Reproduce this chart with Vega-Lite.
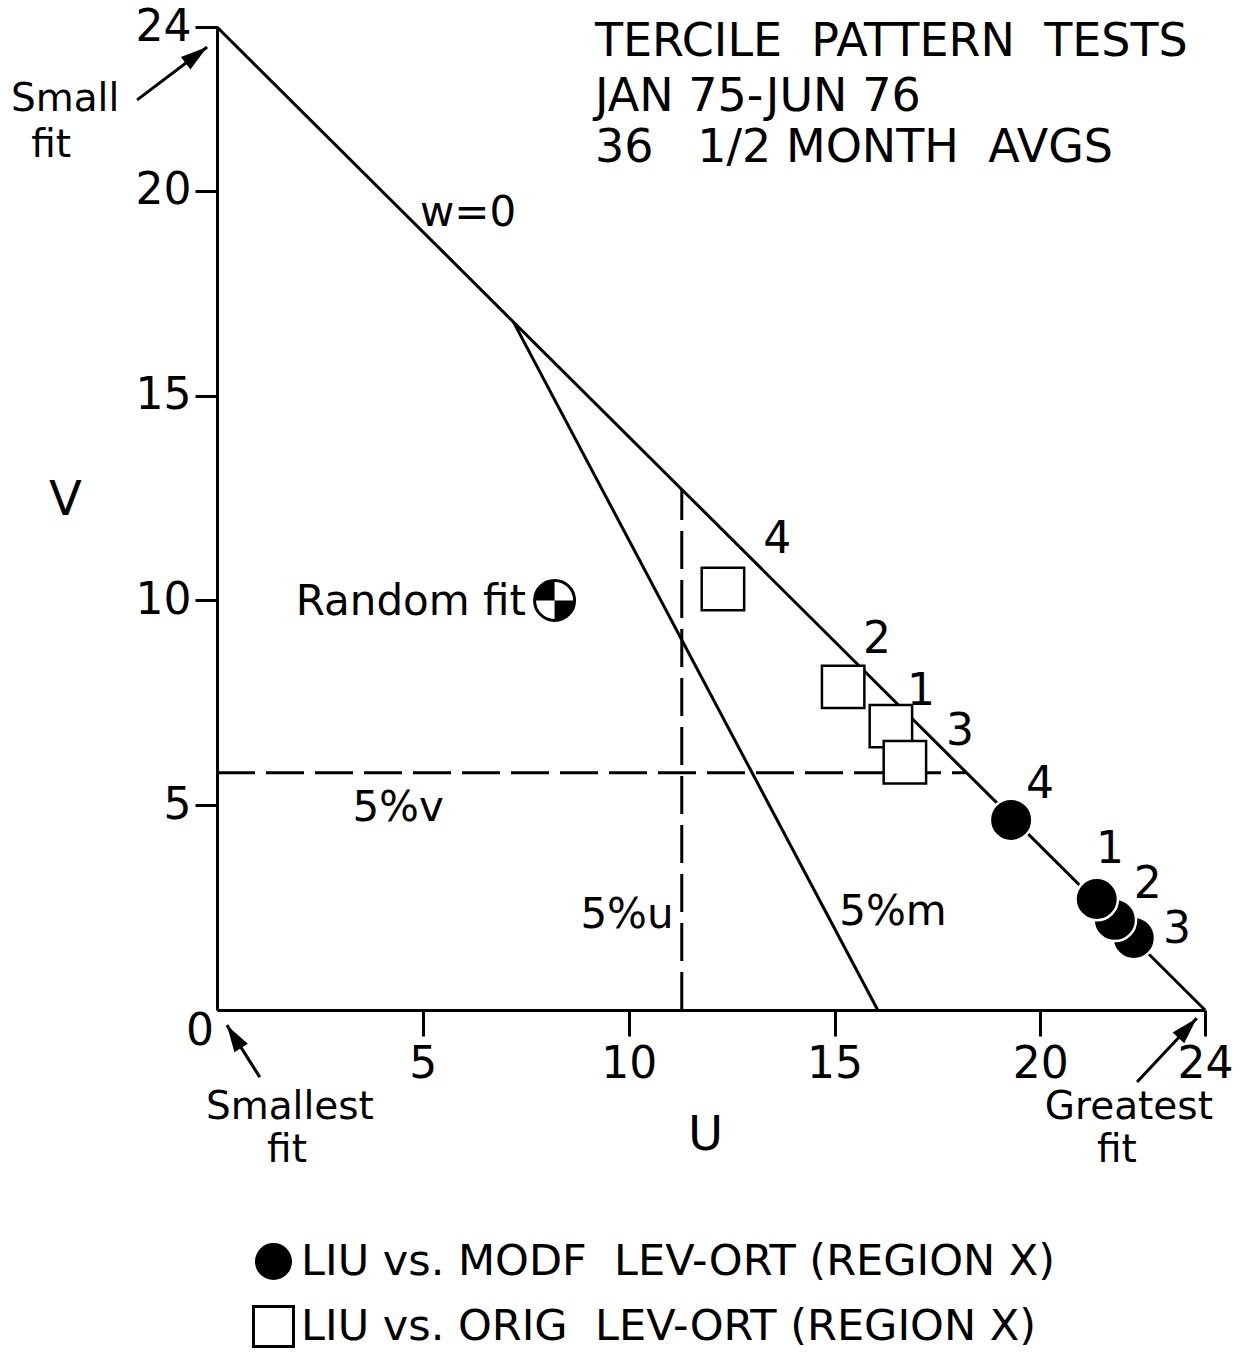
{
  "$schema": "https://vega.github.io/schema/vega-lite/v6.json",
  "width": 988,
  "height": 983,
  "autosize": {"type": "none"},
  "padding": {"left": 217, "top": 27, "right": 41, "bottom": 345},
  "background": "white",
  "config": {
    "view": {"stroke": null},
    "font": "DejaVu Sans",
    "axis": {
      "domainColor": "black", "domainWidth": 3, "tickColor": "black", "tickWidth": 3,
      "labelColor": "black", "labelFont": "DejaVu Sans", "labelFontSize": 44,
      "titleColor": "black", "titleFont": "DejaVu Sans", "titleFontWeight": "normal", "titleFontSize": 48,
      "grid": false, "labelFlush": false, "labelOverlap": false
    },
    "legend": {
      "orient": "none", "legendX": 35, "legendY": 1213, "title": null,
      "labelFont": "DejaVu Sans", "labelFontSize": 43, "labelColor": "black", "labelLimit": 0,
      "symbolSize": 1600, "symbolStrokeWidth": 3, "rowPadding": 12, "labelOffset": 6
    }
  },
  "datasets": {
    "points": [
      {"u": 12.29, "v": 10.28, "series": "LIU vs. ORIG\u00a0 LEV-ORT (REGION X)", "id": "4"},
      {"u": 15.21, "v": 7.89, "series": "LIU vs. ORIG\u00a0 LEV-ORT (REGION X)", "id": "2"},
      {"u": 16.37, "v": 6.93, "series": "LIU vs. ORIG\u00a0 LEV-ORT (REGION X)", "id": "1"},
      {"u": 16.71, "v": 6.05, "series": "LIU vs. ORIG\u00a0 LEV-ORT (REGION X)", "id": "3"},
      {"u": 19.29, "v": 4.64, "series": "LIU vs. MODF\u00a0 LEV-ORT (REGION X)", "id": "4"},
      {"u": 22.27, "v": 1.76, "series": "LIU vs. MODF\u00a0 LEV-ORT (REGION X)", "id": "3"},
      {"u": 21.81, "v": 2.2, "series": "LIU vs. MODF\u00a0 LEV-ORT (REGION X)", "id": "2"},
      {"u": 21.37, "v": 2.71, "series": "LIU vs. MODF\u00a0 LEV-ORT (REGION X)", "id": "1"}
    ],
    "lines": [
      {"name": "w=0", "u": 0, "v": 24, "u2": 24, "v2": 0},
      {"name": "5%m", "u": 7.2, "v": 16.8, "u2": 16.05, "v2": 0}
    ],
    "dashed": [
      {"name": "5%u", "u": 11.29, "v": 0, "u2": 11.29, "v2": 12.71},
      {"name": "5%v", "u": 0, "v": 5.79, "u2": 18.21, "v2": 5.79}
    ],
    "arrows": [
      {"name": "small", "u": -1.94, "v": 22.22, "u2": -0.24, "v2": 23.51},
      {"name": "smallest", "u": 1.04, "v": -1.64, "u2": 0.24, "v2": -0.37},
      {"name": "greatest", "u": 22.35, "v": -1.76, "u2": 23.8, "v2": -0.2}
    ],
    "random": [{"u": 8.2, "v": 10}],
    "numlabels": [
      {"u": 13.61, "v": 11.47, "text": "4"},
      {"u": 16.03, "v": 9.03, "text": "2"},
      {"u": 17.1, "v": 7.76, "text": "1"},
      {"u": 18.05, "v": 6.79, "text": "3"},
      {"u": 19.99, "v": 5.49, "text": "4"},
      {"u": 21.69, "v": 3.91, "text": "1"},
      {"u": 22.61, "v": 3.05, "text": "2"},
      {"u": 23.32, "v": 1.95, "text": "3"}
    ],
    "annotations": [
      {"u": 6.1, "v": 19.46, "text": "w=0"},
      {"u": 4.4, "v": 4.93, "text": "5%v"},
      {"u": 9.96, "v": 2.32, "text": "5%u"},
      {"u": 16.42, "v": 2.39, "text": "5%m"},
      {"u": 4.71, "v": 9.96, "text": "Random fit"}
    ],
    "corners": [
      {"u": -3.69, "v": 22.25, "text": "Small"},
      {"u": -4.03, "v": 21.12, "text": "fit"},
      {"u": 1.77, "v": -2.36, "text": "Smallest"},
      {"u": 1.7, "v": -3.42, "text": "fit"},
      {"u": 22.15, "v": -2.38, "text": "Greatest"},
      {"u": 21.86, "v": -3.42, "text": "fit"}
    ],
    "zero": [{"u": -0.41, "v": -0.54, "text": "0"}],
    "title": [
      {"u": 9.18, "v": 23.63, "text": "TERCILE\u00a0 PATTERN\u00a0 TESTS"},
      {"u": 9.18, "v": 22.29, "text": "JAN 75-JUN 76"},
      {"u": 9.18, "v": 21.04, "text": "36\u00a0\u00a0 1/2 MONTH\u00a0 AVGS"}
    ]
  },
  "encoding": {
    "x": {
      "field": "u", "type": "quantitative",
      "scale": {"domain": [0, 24], "nice": false, "zero": false},
      "axis": {
        "values": [5, 10, 15, 20, 24], "tickSize": 26, "labelPadding": 6,
        "title": "U", "titleX": 488, "titleY": 125, "titleBaseline": "middle", "titleAlign": "center"
      }
    },
    "y": {
      "field": "v", "type": "quantitative",
      "scale": {"domain": [0, 24], "nice": false, "zero": false},
      "axis": {
        "values": [5, 10, 15, 20, 24], "tickSize": 22, "labelPadding": 4, "labelBaseline": "middle",
        "title": "V", "titleAngle": 0, "titleX": -152, "titleY": 473, "titleBaseline": "middle", "titleAlign": "center"
      }
    }
  },
  "layer": [
    {
      "data": {"name": "lines"},
      "mark": {"type": "rule", "color": "black", "strokeWidth": 3},
      "encoding": {"x2": {"field": "u2"}, "y2": {"field": "v2"}}
    },
    {
      "data": {"name": "dashed"},
      "mark": {"type": "rule", "color": "black", "strokeWidth": 3, "strokeDash": [38, 11]},
      "encoding": {"x2": {"field": "u2"}, "y2": {"field": "v2"}}
    },
    {
      "data": {"name": "arrows"},
      "mark": {"type": "rule", "color": "black", "strokeWidth": 3},
      "encoding": {"x2": {"field": "u2"}, "y2": {"field": "v2"}}
    },
    {
      "data": {"name": "arrows"},
      "transform": [{"filter": "datum.name === 'small'"}],
      "mark": {"type": "point", "shape": "M0,0L-0.5,1.7L0.5,1.7Z", "filled": true, "color": "black", "size": 1000, "angle": 53, "opacity": 1},
      "encoding": {"x": {"field": "u2", "type": "quantitative"}, "y": {"field": "v2", "type": "quantitative"}}
    },
    {
      "data": {"name": "arrows"},
      "transform": [{"filter": "datum.name === 'smallest'"}],
      "mark": {"type": "point", "shape": "M0,0L-0.5,1.7L0.5,1.7Z", "filled": true, "color": "black", "size": 1000, "angle": 328, "opacity": 1},
      "encoding": {"x": {"field": "u2", "type": "quantitative"}, "y": {"field": "v2", "type": "quantitative"}}
    },
    {
      "data": {"name": "arrows"},
      "transform": [{"filter": "datum.name === 'greatest'"}],
      "mark": {"type": "point", "shape": "M0,0L-0.5,1.7L0.5,1.7Z", "filled": true, "color": "black", "size": 1000, "angle": 43, "opacity": 1},
      "encoding": {"x": {"field": "u2", "type": "quantitative"}, "y": {"field": "v2", "type": "quantitative"}}
    },
    {
      "data": {"name": "points"},
      "mark": {"type": "point", "filled": true, "size": 1800, "strokeWidth": 2.5, "opacity": 1},
      "encoding": {
        "shape": {"field": "series", "type": "nominal", "scale": {"domain": ["LIU vs. MODF\u00a0 LEV-ORT (REGION X)", "LIU vs. ORIG\u00a0 LEV-ORT (REGION X)"], "range": ["circle", "square"]}},
        "fill": {"field": "series", "type": "nominal", "scale": {"domain": ["LIU vs. MODF\u00a0 LEV-ORT (REGION X)", "LIU vs. ORIG\u00a0 LEV-ORT (REGION X)"], "range": ["black", "white"]}},
        "stroke": {"field": "series", "type": "nominal", "scale": {"domain": ["LIU vs. MODF\u00a0 LEV-ORT (REGION X)", "LIU vs. ORIG\u00a0 LEV-ORT (REGION X)"], "range": ["white", "black"]}}
      }
    },
    {
      "data": {"name": "random"},
      "mark": {"type": "point", "shape": "circle", "fill": "white", "stroke": "black", "strokeWidth": 3, "size": 1600, "opacity": 1}
    },
    {
      "data": {"name": "random"},
      "mark": {"type": "point", "shape": "M0,0L-1,0A1,1 0 0 1 0,-1Z M0,0L1,0A1,1 0 0 1 0,1Z", "filled": true, "color": "black", "size": 1600, "opacity": 1}
    },
    {
      "data": {"name": "numlabels"},
      "mark": {"type": "text", "fontSize": 44, "font": "DejaVu Sans", "color": "black", "align": "center", "baseline": "middle"},
      "encoding": {"text": {"field": "text"}}
    },
    {
      "data": {"name": "annotations"},
      "mark": {"type": "text", "fontSize": 42, "font": "DejaVu Sans", "color": "black", "align": "center", "baseline": "middle"},
      "encoding": {"text": {"field": "text"}}
    },
    {
      "data": {"name": "corners"},
      "mark": {"type": "text", "fontSize": 39, "font": "DejaVu Sans", "color": "black", "align": "center", "baseline": "middle"},
      "encoding": {"text": {"field": "text"}}
    },
    {
      "data": {"name": "zero"},
      "mark": {"type": "text", "fontSize": 44, "font": "DejaVu Sans", "color": "black", "align": "center", "baseline": "middle"},
      "encoding": {"text": {"field": "text"}}
    },
    {
      "data": {"name": "title"},
      "mark": {"type": "text", "fontSize": 46, "font": "DejaVu Sans", "color": "black", "align": "left", "baseline": "middle"},
      "encoding": {"text": {"field": "text"}}
    }
  ]
}
